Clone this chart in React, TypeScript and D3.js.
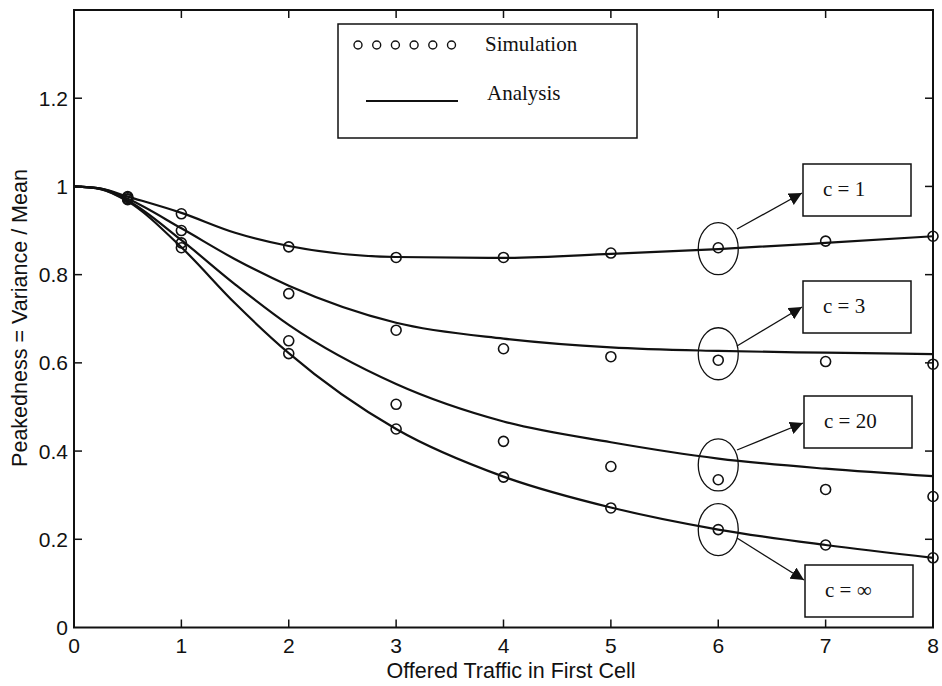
import React from "react";
import * as d3 from "d3";

const curveX = [0, 0.25, 0.5, 1, 1.5, 2, 3, 4, 5, 6, 7, 8];
const analysisC1 = [1.0, 0.995, 0.977, 0.94, 0.895, 0.865, 0.84, 0.838, 0.847, 0.858, 0.872, 0.887];
const analysisC3 = [1.0, 0.995, 0.972, 0.905, 0.835, 0.775, 0.691, 0.655, 0.635, 0.627, 0.623, 0.62];
const analysisC20 = [1.0, 0.994, 0.968, 0.878, 0.778, 0.686, 0.552, 0.467, 0.42, 0.383, 0.36, 0.343];
const analysisCInf = [1.0, 0.994, 0.966, 0.862, 0.735, 0.622, 0.45, 0.342, 0.272, 0.222, 0.187, 0.158];

const simX = [0.5, 1, 2, 3, 4, 5, 6, 7, 8];
const simC1 = [0.977, 0.938, 0.863, 0.839, 0.839, 0.849, 0.861, 0.876, 0.887];
const simC3 = [0.975, 0.9, 0.757, 0.674, 0.632, 0.614, 0.606, 0.603, 0.597];
const simC20 = [0.972, 0.872, 0.65, 0.506, 0.422, 0.365, 0.335, 0.313, 0.297];
const simCInf = [0.97, 0.861, 0.621, 0.45, 0.341, 0.271, 0.222, 0.187, 0.158];

const xTicks = [0, 1, 2, 3, 4, 5, 6, 7, 8];
const yTicks = [0, 0.2, 0.4, 0.6, 0.8, 1, 1.2];
const yTickLabels = ["0", "0.2", "0.4", "0.6", "0.8", "1", "1.2"];

const seriesLabels = ["c = 1", "c = 3", "c = 20", "c = \u221E"];
const annotationX = 6;

const legendLabels = ["Simulation", "Analysis"];
const xAxisLabel = "Offered Traffic in First Cell";
const yAxisLabel = "Peakedness = Variance / Mean";

export default function App() {
  const W = 942, H = 686;
  const left = 74, right = 933, top = 10, bottom = 627.5;
  const x = d3.scaleLinear().domain([0, 8]).range([left, right]);
  const y = d3.scaleLinear().domain([0, 1.4]).range([bottom, top]);
  const line = d3
    .line<number>()
    .x((_, i) => x(curveX[i]))
    .y((d) => y(d))
    .curve(d3.curveMonotoneX);

  const analyses = [analysisC1, analysisC3, analysisC20, analysisCInf];
  const sims = [simC1, simC3, simC20, simCInf];
  const sans = "'Liberation Sans', Arial, sans-serif";
  const serif = "'Liberation Serif', 'Times New Roman', serif";
  const tickLen = 8;

  const boxes = [
    { bx: 803, by: 164, arrowStart: [737, 229], arrowEnd: [802, 193] },
    { bx: 803, by: 281, arrowStart: [737, 346], arrowEnd: [802, 307] },
    { bx: 804, by: 396, arrowStart: [737, 450], arrowEnd: [803, 423] },
    { bx: 805, by: 565, arrowStart: [737, 538], arrowEnd: [804, 580] },
  ];
  const ellipseCY = analyses.map((a, i) => {
    const sy = y(sims[i][simX.indexOf(annotationX)]);
    const ly = y(a[curveX.indexOf(annotationX)]);
    return ly * 0.7 + sy * 0.3;
  });

  return (
    <svg
      width={W}
      height={H}
      style={{ position: "absolute", left: 0, top: 0, background: "#fff" }}
    >
      <defs>
        <marker
          id="arr"
          viewBox="0 0 10 10"
          refX="10"
          refY="5"
          markerWidth="13"
          markerHeight="13"
          markerUnits="userSpaceOnUse"
          orient="auto"
        >
          <path d="M0,0 L10,5 L0,10 z" fill="#111" />
        </marker>
      </defs>
      <rect x={0} y={0} width={W} height={H} fill="#fff" />

      {analyses.map((a, i) => (
        <path key={"l" + i} d={line(a) || ""} fill="none" stroke="#111" strokeWidth={2.2} />
      ))}

      {sims.map((s, i) =>
        s.map((v, j) => (
          <circle
            key={"p" + i + "-" + j}
            cx={x(simX[j])}
            cy={y(v)}
            r={5}
            fill="none"
            stroke="#111"
            strokeWidth={1.6}
          />
        ))
      )}

      <rect x={left} y={top} width={right - left} height={bottom - top} fill="none" stroke="#111" strokeWidth={2} />

      {xTicks.map((t) => (
        <g key={"xt" + t}>
          {t > 0 && t < 8 && (
            <>
              <line x1={x(t)} x2={x(t)} y1={bottom} y2={bottom - tickLen} stroke="#111" strokeWidth={1.5} />
              <line x1={x(t)} x2={x(t)} y1={top} y2={top + tickLen} stroke="#111" strokeWidth={1.5} />
            </>
          )}
          <text x={x(t)} y={653} textAnchor="middle" fontFamily={sans} fontSize={21} fill="#111">
            {t}
          </text>
        </g>
      ))}

      {yTicks.map((t, i) => (
        <g key={"yt" + t}>
          {t > 0 && (
            <>
              <line x1={left} x2={left + tickLen} y1={y(t)} y2={y(t)} stroke="#111" strokeWidth={1.5} />
              <line x1={right} x2={right - tickLen} y1={y(t)} y2={y(t)} stroke="#111" strokeWidth={1.5} />
            </>
          )}
          <text x={68} y={y(t)} dy="0.36em" textAnchor="end" fontFamily={sans} fontSize={21} fill="#111">
            {yTickLabels[i]}
          </text>
        </g>
      ))}

      <text x={511} y={678} textAnchor="middle" fontFamily={sans} fontSize={21.5} fill="#111">
        {xAxisLabel}
      </text>
      <text
        transform="translate(27,318) rotate(-90)"
        textAnchor="middle"
        fontFamily={sans}
        fontSize={21.5}
        fill="#111"
      >
        {yAxisLabel}
      </text>

      <rect x={338} y={24} width={299} height={114} fill="#fff" stroke="#111" strokeWidth={1.5} />
      {d3.range(6).map((k) => (
        <circle key={"lg" + k} cx={358 + k * 18.7} cy={45} r={4} fill="none" stroke="#111" strokeWidth={1.4} />
      ))}
      <text x={485} y={51} fontFamily={serif} fontSize={21} fill="#111">
        {legendLabels[0]}
      </text>
      <line x1={366} x2={458} y1={101} y2={101} stroke="#111" strokeWidth={2} />
      <text x={487} y={100} fontFamily={serif} fontSize={21} fill="#111">
        {legendLabels[1]}
      </text>

      {boxes.map((b, i) => (
        <g key={"ann" + i}>
          <ellipse
            cx={x(annotationX)}
            cy={ellipseCY[i]}
            rx={20}
            ry={26}
            fill="none"
            stroke="#111"
            strokeWidth={1.3}
          />
          <line
            x1={b.arrowStart[0]}
            y1={b.arrowStart[1]}
            x2={b.arrowEnd[0]}
            y2={b.arrowEnd[1]}
            stroke="#111"
            strokeWidth={1.3}
            markerEnd="url(#arr)"
          />
          <rect x={b.bx} y={b.by} width={108} height={52} fill="#fff" stroke="#111" strokeWidth={1.5} />
          <text x={b.bx + 20} y={b.by + 32} fontFamily={serif} fontSize={21} fill="#111">
            {seriesLabels[i]}
          </text>
        </g>
      ))}
    </svg>
  );
}
